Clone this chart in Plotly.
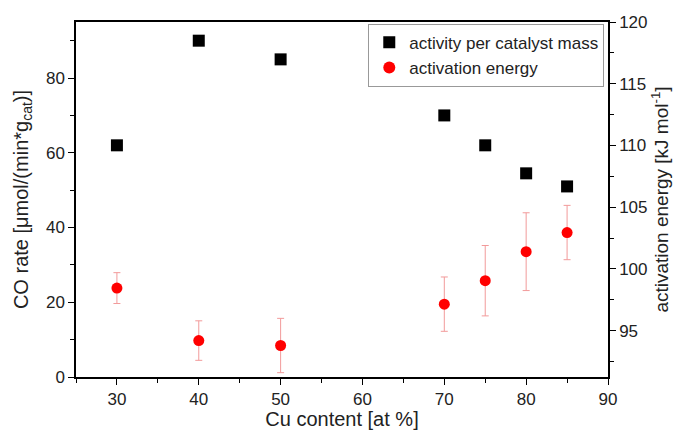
import plotly.graph_objects as go

cu_content = [30, 40, 50, 70, 75, 80, 85]
co_rate = [62, 90, 85, 70, 62, 54.5, 51]
act_energy = [98.45, 94.2, 93.8, 97.15, 99.05, 101.4, 102.95]
act_err = [1.25, 1.6, 2.2, 2.2, 2.85, 3.15, 2.2]

FONT = "Arial, Liberation Sans, sans-serif"

fig = go.Figure()
fig.add_trace(go.Scatter(
    x=cu_content, y=co_rate, mode="markers", name="activity per catalyst mass",
    marker=dict(symbol="square", size=12, color="black"),
    yaxis="y"))
fig.add_trace(go.Scatter(
    x=cu_content, y=act_energy, mode="markers", name="activation energy",
    marker=dict(symbol="circle", size=11, color="#ff0000"),
    error_y=dict(type="data", array=act_err, visible=True, color="#f29a9a",
                 thickness=1, width=3.5),
    yaxis="y2"))

axis_common = dict(showline=True, linecolor="black", linewidth=1.5,
                   ticks="outside", ticklen=6, tickwidth=1.2, tickcolor="black",
                   showgrid=False, zeroline=False, automargin=False,
                   tickfont=dict(family=FONT, size=17, color="#222"))

fig.update_layout(
    width=676, height=430,
    margin=dict(l=76, r=68, t=22, b=53),
    paper_bgcolor="white", plot_bgcolor="white",
    font=dict(family=FONT, color="#222"),
    xaxis=dict(range=[25, 90], dtick=10, tick0=30, mirror=True,
               minor=dict(ticks="outside", ticklen=4, dtick=5, tickcolor="black"),
               title=dict(text="Cu content [at %]", font=dict(family=FONT, size=20), standoff=2),
               **axis_common),
    yaxis=dict(range=[0, 95], dtick=20,
               minor=dict(ticks="outside", ticklen=4, dtick=10, tickcolor="black"),
               title=dict(text="CO rate [μmol/(min*g<sub>cat</sub>)]", font=dict(family=FONT, size=20), standoff=12),
               **axis_common),
    yaxis2=dict(range=[91.25, 120], dtick=5, overlaying="y", side="right",
                minor=dict(ticks="outside", ticklen=4, dtick=2.5, tickcolor="black"),
                title=dict(text="activation energy [kJ mol<sup>-1</sup>]", font=dict(family=FONT, size=19), standoff=8),
                **axis_common),
    legend=dict(x=0.993, xanchor="right", y=0.995, yanchor="top",
                bgcolor="white", bordercolor="#999", borderwidth=1,
                font=dict(family=FONT, size=17, color="#222"),
                itemsizing="constant", tracegroupgap=0),
    showlegend=True,
)

fig.write_html("out.html")
